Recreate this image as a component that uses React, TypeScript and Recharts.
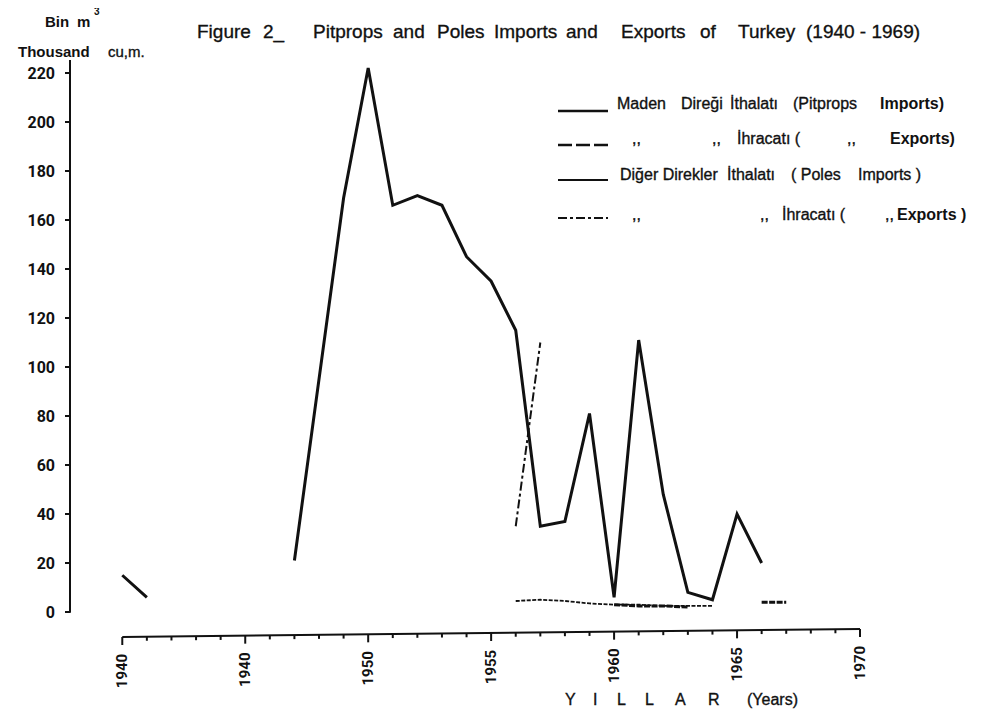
import React from 'react';
import { LineChart, Line, XAxis, YAxis, ReferenceLine } from 'recharts';

// ---- data ----
const pitpropImportYears = [1940, 1941, 1942, 1947, 1949, 1950, 1951, 1952, 1953, 1954, 1955, 1956, 1957, 1958, 1959, 1960, 1961, 1962, 1963, 1964, 1965, 1966];
const pitpropImportValues = [15, 6, null, 21, 169, 222, 166, 170, 166, 145, 135, 115, 35, 37, 81, 6, 111, 48, 8, 5, 40, 20];

const pitpropExportYears = [1960, 1961, 1962, 1963, 1964, 1966, 1967];
const pitpropExportValues = [3, 2.5, 2.5, 2, null, 4, 4];

const poleImportYears = [1956, 1957, 1958, 1959, 1960, 1961, 1962, 1963, 1964];
const poleImportValues = [4.5, 5, 4.5, 3.5, 3, 3, 2.5, 2.5, 2.5];

const poleExportYears = [1956, 1957];
const poleExportValues = [35, 110];

const yTicks = [0, 20, 40, 60, 80, 100, 120, 140, 160, 180, 200, 220];
const xTickYears = [1940, 1941, 1942, 1943, 1944, 1945, 1946, 1947, 1948, 1949, 1950, 1951, 1952, 1953, 1954, 1955, 1956, 1957, 1958, 1959, 1960, 1961, 1962, 1963, 1964, 1965, 1966, 1967, 1968, 1969, 1970];
const xMajorYears = [1940, 1945, 1950, 1955, 1960, 1965, 1970];
const xMajorLabels = ['1940', '1940', '1950', '1955', '1960', '1965', '1970'];

const toRows = (years: number[], values: (number | null)[]) =>
  years.map((year, i) => ({ year, value: values[i] }));

const pitpropImports = toRows(pitpropImportYears, pitpropImportValues);
const pitpropExports = toRows(pitpropExportYears, pitpropExportValues);
const poleImports = toRows(poleImportYears, poleImportValues);
const poleExports = toRows(poleExportYears, poleExportValues);

// ---- layout ----
const X_MIN = 1937.874;
const X_MAX = 1970;
const Y_MIN = -10.2;
const Y_MAX = 225.3;
const INK = '#111';
const FONT = "'Liberation Sans', Arial, sans-serif";
const NUM_FONT = "'Liberation Sans Narrow', 'Roboto', sans-serif";

const slant = (yr: number) => ((yr - 1940) / 30) * 8;

const XTick = (props: any) => {
  const { x, y, payload } = props;
  const yr = Number(payload.value);
  const idx = xMajorYears.indexOf(yr);
  const major = idx >= 0;
  const ay = y - slant(yr);
  return (
    <g>
      <line x1={x} y1={ay} x2={x} y2={ay + (major ? 8 : 4)} stroke={INK} strokeWidth={2} />
      {major && (
        <text
          transform={`translate(${x},${ay + 34}) rotate(-90)`}
          textAnchor="middle"
          dominantBaseline="central"
          fontFamily={NUM_FONT}
          fontWeight="bold"
          fontSize={15}
          fill={INK}
        >
          {xMajorLabels[idx]}
        </text>
      )}
    </g>
  );
};

type Chunk = [string, number, boolean?];

const T = ({ chunks, y, size = 16, weight = 'normal' }: { chunks: Chunk[]; y: number; size?: number; weight?: string }) => (
  <>
    {chunks.map(([s, x, bold], i) => (
      <text
        key={i}
        x={x}
        y={y}
        fontFamily={FONT}
        fontSize={size}
        fontWeight={bold ? 'bold' : weight}
        fill={INK}
        stroke={INK}
        strokeWidth={bold || weight === 'bold' ? 0 : 0.35}
      >
        {s}
      </text>
    ))}
  </>
);

const Overlay = () => (
  <svg width={988} height={712} style={{ position: 'absolute', left: 0, top: 0, pointerEvents: 'none' }}>
    {/* axis unit */}
    <T y={27} size={15} weight="bold" chunks={[['Bin', 45], ['m', 77]]} />
    <text x={94} y={15} fontFamily={FONT} fontSize={10} fontWeight="bold" fill={INK}>3</text>
    <T y={57} size={15} chunks={[['Thousand', 18, true], ['cu,m.', 108]]} />

    {/* title */}
    <T
      y={38}
      size={19}
      chunks={[
        ['Figure', 197], ['2_', 263], ['Pitprops', 313], ['and', 393], ['Poles', 437],
        ['Imports', 494], ['and', 566], ['Exports', 621], ['of', 700], ['Turkey', 738],
        ['(1940 - 1969)', 806],
      ]}
    />

    {/* legend */}
    <line x1={558} y1={111} x2={608} y2={111} stroke={INK} strokeWidth={2.5} />
    <T y={109} chunks={[['Maden', 617], ['Direği', 681], ['İthalatı', 730], ['(Pitprops', 793], ['Imports)', 880, true]]} />

    <line x1={558} y1={145} x2={608} y2={145} stroke={INK} strokeWidth={2.5} strokeDasharray="14 4" />
    <T y={144} chunks={[[',,', 632], [',,', 712], ['İhracatı (', 737], [',,', 847], ['Exports)', 890, true]]} />

    <line x1={558} y1={180} x2={608} y2={180} stroke={INK} strokeWidth={1.8} />
    <T y={180} chunks={[['Diğer Direkler', 620], ['İthalatı', 727], ['( Poles', 791], ['Imports )', 858]]} />

    <line x1={558} y1={218} x2={608} y2={218} stroke={INK} strokeWidth={2} strokeDasharray="9 3 3 3" />
    <T y={220} chunks={[[',,', 632], [',,', 760], ['İhracatı (', 782], [',,', 885], ['Exports )', 897, true]]} />

    {/* x axis title */}
    <T
      y={705}
      size={16}
      chunks={[['Y', 565], ['I', 593], ['L', 617], ['L', 645], ['A', 675], ['R', 708], ['(Years)', 747]]}
    />
  </svg>
);

export default function App() {
  return (
    <div style={{ position: 'relative', width: 988, height: 712, margin: '-8px 0 0 -8px', background: '#fff' }}>
      <LineChart width={988} height={712} margin={{ top: 60, right: 128, bottom: 0, left: 0 }}>
        <XAxis
          dataKey="year"
          type="number"
          domain={[X_MIN, X_MAX]}
          allowDataOverflow
          ticks={xTickYears}
          interval={0}
          height={75}
          axisLine={false}
          tickLine={false}
          tickSize={0}
          tickMargin={0}
          tick={(p: any) => <XTick {...p} />}
        />
        <YAxis
          type="number"
          domain={[Y_MIN, Y_MAX]}
          allowDataOverflow
          ticks={yTicks}
          interval={0}
          width={70}
          axisLine={false}
          tickLine={{ stroke: INK, strokeWidth: 2 }}
          tickSize={5}
          tickMargin={10}
          tick={{ fill: INK, fontSize: 16, fontWeight: 'bold', fontFamily: NUM_FONT }}
        />
        {/* axis lines */}
        <ReferenceLine
          segment={[{ x: X_MIN, y: -0.3 }, { x: X_MIN, y: Y_MAX }]}
          stroke={INK}
          strokeWidth={2}
          ifOverflow="visible"
        />
        <ReferenceLine
          segment={[{ x: 1940, y: Y_MIN }, { x: 1970, y: Y_MIN + 8 / 2.45 }]}
          stroke={INK}
          strokeWidth={2}
          ifOverflow="visible"
        />
        <Line
          data={poleImports}
          dataKey="value"
          type="linear"
          stroke={INK}
          strokeWidth={1.8}
          strokeDasharray="4 1.5"
          dot={false}
          isAnimationActive={false}
        />
        <Line
          data={pitpropExports}
          dataKey="value"
          type="linear"
          stroke={INK}
          strokeWidth={3}
          strokeDasharray="6 1.5"
          dot={false}
          isAnimationActive={false}
        />
        <Line
          data={poleExports}
          dataKey="value"
          type="linear"
          stroke={INK}
          strokeWidth={2}
          strokeDasharray="9 3 3 3"
          dot={false}
          isAnimationActive={false}
        />
        <Line
          data={pitpropImports}
          dataKey="value"
          type="linear"
          stroke={INK}
          strokeWidth={3}
          dot={false}
          isAnimationActive={false}
        />
      </LineChart>
      <Overlay />
    </div>
  );
}
